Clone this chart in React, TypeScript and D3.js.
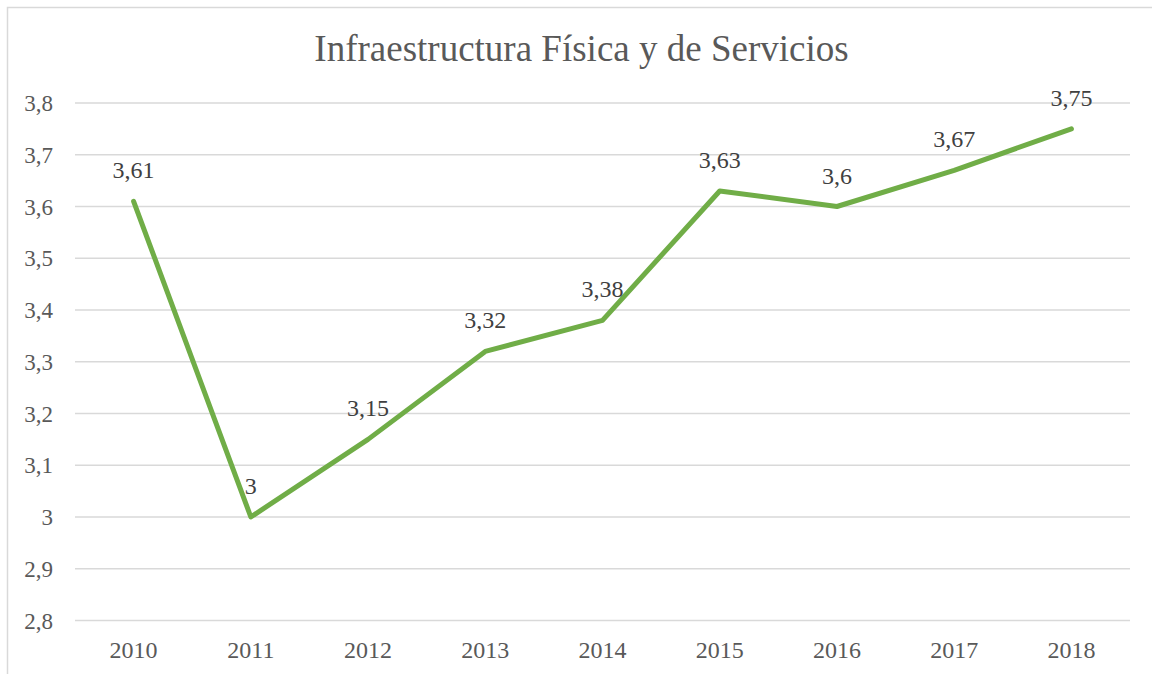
import React, { useRef, useEffect } from 'react';
import * as d3 from 'd3';

const years = ['2010', '2011', '2012', '2013', '2014', '2015', '2016', '2017', '2018'];
const values = [3.61, 3.0, 3.15, 3.32, 3.38, 3.63, 3.6, 3.67, 3.75];
const yTicks = [2.8, 2.9, 3.0, 3.1, 3.2, 3.3, 3.4, 3.5, 3.6, 3.7, 3.8];
const title = 'Infraestructura Física y de Servicios';

const width = 1152;
const height = 674;

const fmt = (v: number) => String(+v.toFixed(2)).replace('.', ',');

const App = () => {
  const svgRef = useRef<SVGSVGElement>(null);

  useEffect(() => {
    const svg = d3.select(svgRef.current);
    svg.selectAll('*').remove();

    const marginLeft = 75;
    const marginRight = 22;
    const marginTop = 103;
    const marginBottom = 53.5;
    const font = 'Liberation Serif';
    const textColor = '#595959';

    // chart frame (right and bottom sides fall outside the picture)
    svg.append('rect')
      .attr('x', 7.5)
      .attr('y', 7.5)
      .attr('width', width + 20)
      .attr('height', height + 20)
      .attr('fill', '#fff')
      .attr('stroke', '#d9d9d9')
      .attr('stroke-width', 1.5);

    const x = d3.scaleBand()
      .domain(years)
      .range([marginLeft, width - marginRight]);

    const y = d3.scaleLinear()
      .domain([2.8, 3.8])
      .range([height - marginBottom, marginTop]);

    // gridlines
    svg.append('g')
      .selectAll('line')
      .data(yTicks)
      .join('line')
      .attr('x1', marginLeft)
      .attr('x2', width - marginRight)
      .attr('y1', d => y(d))
      .attr('y2', d => y(d))
      .attr('stroke', '#d9d9d9')
      .attr('stroke-width', 1.5);

    // y labels
    svg.append('g')
      .selectAll('text')
      .data(yTicks)
      .join('text')
      .attr('x', 53)
      .attr('y', d => y(d))
      .attr('dy', '0.35em')
      .attr('text-anchor', 'end')
      .style('font-family', font)
      .attr('font-size', 23)
      .attr('fill', textColor)
      .text(d => fmt(d));

    // x labels
    svg.append('g')
      .selectAll('text')
      .data(years)
      .join('text')
      .attr('x', d => x(d)! + x.bandwidth() / 2)
      .attr('y', 658)
      .attr('text-anchor', 'middle')
      .style('font-family', font)
      .attr('font-size', 24)
      .attr('fill', textColor)
      .text(d => d);

    const line = d3.line<number>()
      .x((d, i) => x(years[i])! + x.bandwidth() / 2)
      .y(d => y(d));

    svg.append('path')
      .datum(values)
      .attr('fill', 'none')
      .attr('stroke', '#70ad47')
      .attr('stroke-width', 5)
      .attr('stroke-linejoin', 'round')
      .attr('stroke-linecap', 'round')
      .attr('d', line);

    // data labels
    svg.append('g')
      .selectAll('text')
      .data(values)
      .join('text')
      .attr('x', (d, i) => x(years[i])! + x.bandwidth() / 2)
      .attr('y', d => y(d) - 23)
      .attr('text-anchor', 'middle')
      .style('font-family', font)
      .attr('font-size', 24)
      .attr('fill', '#404040')
      .text(d => fmt(d));

    svg.append('text')
      .attr('x', 581.5)
      .attr('y', 61)
      .attr('text-anchor', 'middle')
      .style('font-family', font)
      .attr('font-size', 37)
      .attr('fill', textColor)
      .text(title);
  }, []);

  return (
    <svg
      ref={svgRef}
      width={width}
      height={height}
      style={{ position: 'absolute', left: 0, top: 0, background: '#fff' }}
    />
  );
};

export default App;
